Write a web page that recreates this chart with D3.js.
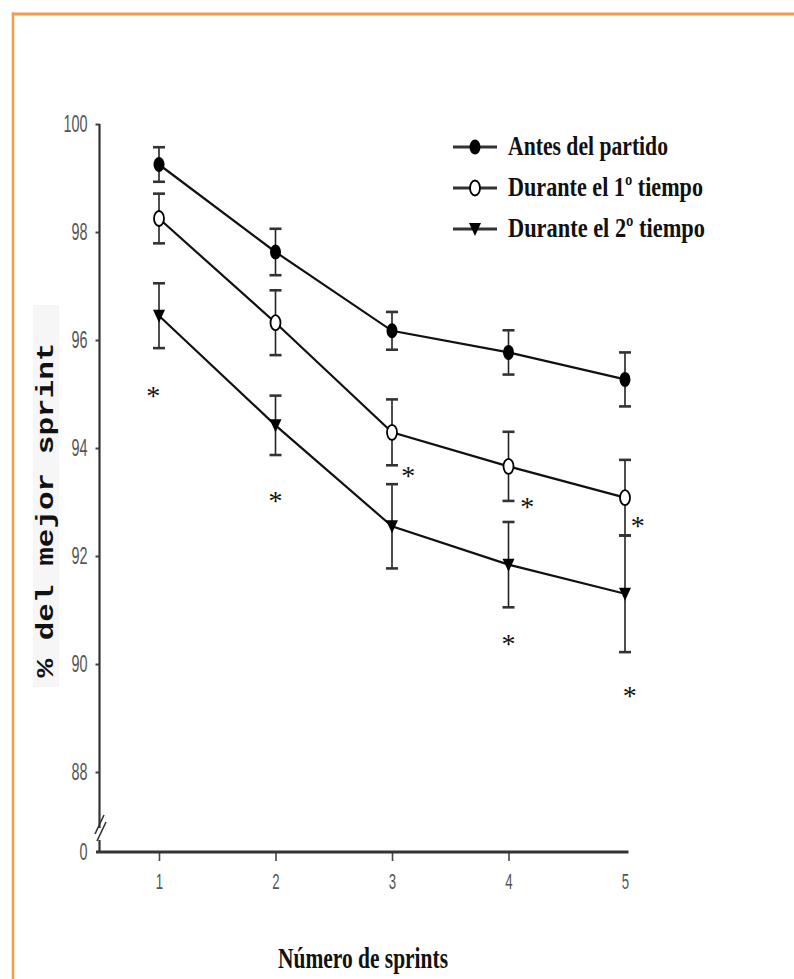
<!DOCTYPE html>
<html>
<head>
<meta charset="utf-8">
<script src="https://cdn.jsdelivr.net/npm/d3@7"></script>
<style>
  html, body { margin: 0; padding: 0; background: #fff; }
  svg { display: block; }
</style>
</head>
<body>
<script>
// ---- data ----
const categories = [1, 2, 3, 4, 5];
const seriesNames = ["Antes del partido", "Durante el 1º tiempo", "Durante el 2º tiempo"];
const antes = [99.25, 97.63, 96.17, 95.77, 95.27];
const antesErr = [0.32, 0.43, 0.35, 0.41, 0.50];
const durante1 = [98.25, 96.32, 94.29, 93.66, 93.08];
const durante1Err = [0.46, 0.60, 0.61, 0.64, 0.70];
const durante2 = [96.45, 94.42, 92.55, 91.84, 91.30];
const durante2Err = [0.60, 0.55, 0.78, 0.79, 1.08];
const yTickValues = [0, 88, 90, 92, 94, 96, 98, 100];
const xTickValues = [1, 2, 3, 4, 5];
// significance asterisks (data coordinates)
const asteriskX = [0.95, 2.0, 3.14, 4.16, 5.11, 4.0, 5.04];
const asteriskY = [95.04, 93.09, 93.56, 92.98, 92.63, 90.44, 89.48];
const yTitle = "% del mejor sprint";
const xTitle = "Número de sprints";

const W = 794, H = 979;
const svg = d3.select("body").append("svg").attr("width", W).attr("height", H);

// border
const orange = "#f39a4c";
svg.append("line").attr("x1", 12).attr("x2", W).attr("y1", 14).attr("y2", 14)
  .attr("stroke", orange).attr("stroke-width", 3);
svg.append("line").attr("x1", 13).attr("x2", 13).attr("y1", 12.5).attr("y2", H)
  .attr("stroke", orange).attr("stroke-width", 2.5);

// scales (piecewise y scale for the broken axis)
const x = d3.scaleLinear().domain([1, 5]).range([159, 625]);
const y = d3.scaleLinear().domain([0, 87.5, 100]).range([852, 799, 124]);
const axisX0 = 96, axisX = 99.5, axisYb = 852;

// y title with light grey box
svg.append("rect").attr("x", 33).attr("y", 305).attr("width", 26).attr("height", 382)
  .attr("fill", "#f6f6f6");
svg.append("text")
  .attr("transform", "translate(53,510) rotate(-90)")
  .attr("text-anchor", "middle")
  .attr("font-family", "'Liberation Mono', 'DejaVu Sans Mono', monospace")
  .attr("font-weight", "bold")
  .attr("font-size", 23)
  .attr("fill", "#111")
  .attr("textLength", 335).attr("lengthAdjust", "spacingAndGlyphs")
  .text(yTitle);

function narrow(sel, f) {
  sel.each(function() {
    const w = this.getComputedTextLength();
    d3.select(this).attr("textLength", w * f).attr("lengthAdjust", "spacingAndGlyphs");
  });
}

// y axis
const yAxis = svg.append("g").attr("transform", `translate(${axisX},0)`)
  .call(d3.axisLeft(y).tickValues(yTickValues).tickSize(4).tickPadding(8).tickFormat(d3.format("d")));
yAxis.select(".domain").remove();
yAxis.selectAll(".tick line").attr("stroke", "#444").attr("stroke-width", 2)
  .filter(d => d === 0).remove();
yAxis.selectAll(".tick text")
  .attr("font-family", "'Liberation Sans', Arial, sans-serif")
  .attr("font-size", 24).attr("fill", "#555")
  .call(narrow, 0.6);

// y axis line with break
svg.append("line").attr("x1", axisX).attr("x2", axisX).attr("y1", y(100)).attr("y2", 828)
  .attr("stroke", "#333").attr("stroke-width", 2.2);
svg.append("line").attr("x1", axisX).attr("x2", axisX).attr("y1", 840).attr("y2", axisYb)
  .attr("stroke", "#333").attr("stroke-width", 2.2);
[[95, 834, 104, 815], [97, 841, 106, 822]].forEach(p => {
  svg.append("line").attr("x1", p[0]).attr("y1", p[1]).attr("x2", p[2]).attr("y2", p[3])
    .attr("stroke", "#333").attr("stroke-width", 1.6);
});

// x axis
const xAxis = svg.append("g").attr("transform", `translate(0,${axisYb})`)
  .call(d3.axisBottom(x).tickValues(xTickValues).tickSize(9).tickPadding(12).tickFormat(d3.format("d")));
xAxis.select(".domain").remove();
xAxis.selectAll(".tick line").attr("stroke", "#444").attr("stroke-width", 1.6)
  .filter(d => d === 5).remove();
xAxis.selectAll(".tick text")
  .attr("font-family", "'Liberation Sans', Arial, sans-serif")
  .attr("font-size", 22).attr("fill", "#555")
  .call(narrow, 0.6);
svg.append("line").attr("x1", axisX0).attr("x2", x(5.03)).attr("y1", axisYb).attr("y2", axisYb)
  .attr("stroke", "#333").attr("stroke-width", 3);

// x title
svg.append("text")
  .attr("x", 363).attr("y", 968).attr("text-anchor", "middle")
  .attr("font-family", "'Liberation Serif', 'DejaVu Serif', serif")
  .attr("font-weight", "bold")
  .attr("font-size", 30).attr("fill", "#111")
  .attr("textLength", 170).attr("lengthAdjust", "spacingAndGlyphs")
  .text(xTitle);

// series
const series = [
  { name: seriesNames[0], vals: antes, err: antesErr, marker: "filled" },
  { name: seriesNames[1], vals: durante1, err: durante1Err, marker: "open" },
  { name: seriesNames[2], vals: durante2, err: durante2Err, marker: "tri" }
];

const line = d3.line().x((d, i) => x(categories[i])).y(d => y(d));

function drawMarker(g, kind, cx, cy) {
  if (kind === "filled") {
    g.append("ellipse").attr("cx", cx).attr("cy", cy).attr("rx", 5.5).attr("ry", 7.5).attr("fill", "#000");
  } else if (kind === "open") {
    g.append("ellipse").attr("cx", cx).attr("cy", cy).attr("rx", 5).attr("ry", 7.5)
      .attr("fill", "#fff").attr("stroke", "#000").attr("stroke-width", 1.8);
  } else {
    g.append("path").attr("d", `M${cx - 6},${cy - 6} L${cx + 6},${cy - 6} L${cx},${cy + 7} Z`)
      .attr("fill", "#000");
  }
}

series.forEach(s => {
  const g = svg.append("g");
  // error bars
  s.vals.forEach((v, i) => {
    const cx = x(categories[i]);
    const t = y(v + s.err[i]), b = y(v - s.err[i]);
    g.append("line").attr("x1", cx).attr("x2", cx).attr("y1", t).attr("y2", b)
      .attr("stroke", "#222").attr("stroke-width", 1.6);
    [t, b].forEach(yy => g.append("line").attr("x1", cx - 6).attr("x2", cx + 6).attr("y1", yy).attr("y2", yy)
      .attr("stroke", "#333").attr("stroke-width", 2.6));
  });
  g.append("path").datum(s.vals).attr("d", line).attr("fill", "none")
    .attr("stroke", "#111").attr("stroke-width", 2.2);
  s.vals.forEach((v, i) => drawMarker(g, s.marker, x(categories[i]), y(v)));
});

// asterisks
asteriskX.forEach((ax, i) => {
  svg.append("text").attr("x", x(ax)).attr("y", y(asteriskY[i]) + 13)
    .attr("text-anchor", "middle")
    .attr("font-family", "'Liberation Serif', serif").attr("font-size", 28).attr("fill", "#111")
    .text("*");
});

// legend
const legY = [147, 188, 229];
const legTextLen = [160, 195, 197];
series.forEach((s, i) => {
  const g = svg.append("g");
  g.append("line").attr("x1", 453).attr("x2", 497).attr("y1", legY[i]).attr("y2", legY[i])
    .attr("stroke", "#333").attr("stroke-width", 3);
  drawMarker(g, s.marker, 475, legY[i]);
  g.append("text").attr("x", 508).attr("y", legY[i] + 8)
    .attr("font-family", "'Liberation Serif', 'DejaVu Serif', serif")
    .attr("font-weight", "bold")
    .attr("font-size", 28).attr("fill", "#111")
    .attr("textLength", legTextLen[i]).attr("lengthAdjust", "spacingAndGlyphs")
    .text(s.name);
});
</script>
</body>
</html>
